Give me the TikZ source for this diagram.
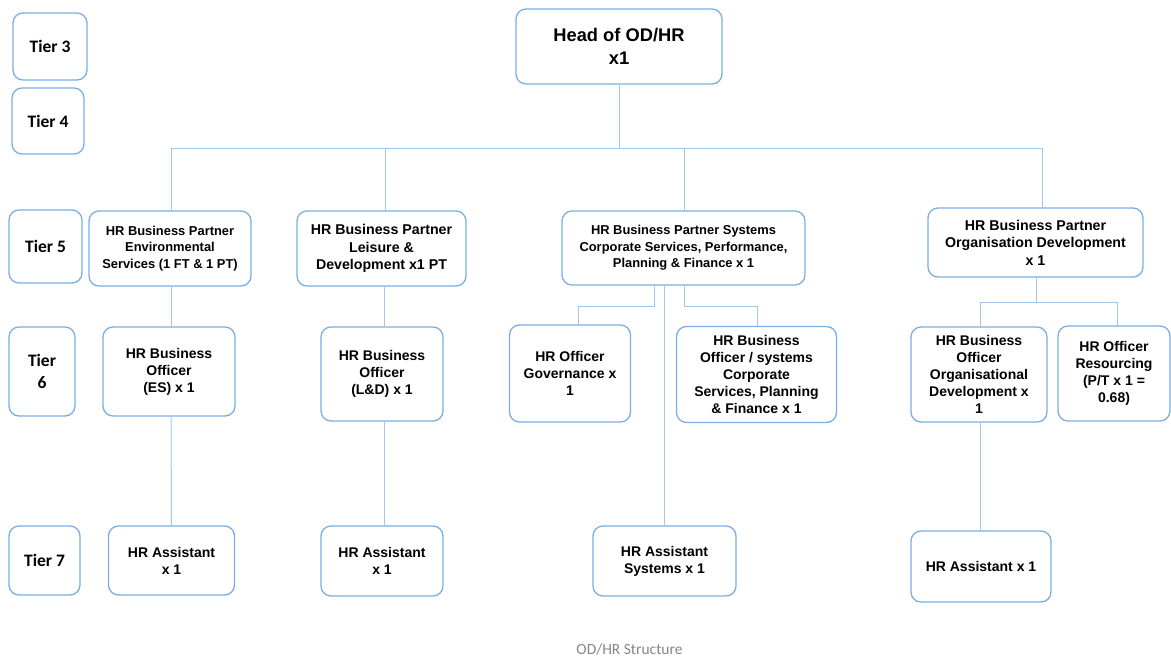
\documentclass[tikz,border=0pt]{standalone}
\usepackage{fontspec}
\setmainfont{Liberation Sans}
\newfontfamily\tierfont{Carlito}
\definecolor{boxc}{HTML}{7AAEE2}
\definecolor{linec}{HTML}{A3C6E8}
\definecolor{capc}{HTML}{868686}
\begin{document}
\begin{tikzpicture}[x=1pt,y=-1pt,
  box/.style={draw=boxc, line width=1.3pt, rounded corners=10pt, align=center, inner sep=2pt,
    font=\bfseries\fontsize{14}{17}\selectfont, text=black},
  small/.style={font=\bfseries\fontsize{12.9}{16.5}\selectfont},
  tier/.style={box, font=\tierfont\bfseries\fontsize{17.5}{22}\selectfont},
  conn/.style={draw=linec, line width=1pt}]
\useasboundingbox (0,0) rectangle (1171,656);
% tier labels
\node[tier, minimum width=74pt, minimum height=67pt] (t3) at (50,46.5) {Tier 3};
\node[tier, minimum width=72pt, minimum height=66pt] (t4) at (48,121) {Tier 4};
\node[tier, minimum width=73pt, minimum height=73pt] (t5) at (45.5,246.5) {Tier 5};
\node[tier, minimum width=66pt, minimum height=89pt] (t6) at (42,371.5) {Tier\\6};
\node[tier, minimum width=71pt, minimum height=69pt] (t7) at (44.5,560.5) {Tier 7};
% head
\node[box, font=\bfseries\fontsize{18.3}{23}\selectfont, minimum width=206pt, minimum height=75pt] (head) at (619,46.5) {Head of OD/HR\\x1};
% tier 5
\node[box, small, minimum width=162pt, minimum height=75pt] (bpES) at (170,248.5) {HR Business Partner\\Environmental\\Services (1 FT \& 1 PT)};
\node[box, font=\bfseries\fontsize{14.2}{17.5}\selectfont, minimum width=169pt, minimum height=75pt] (bpLD) at (381.5,248.5) {HR Business Partner\\Leisure \&\\Development x1 PT};
\node[box, small, minimum width=243pt, minimum height=74pt] (bpSys) at (683.5,248) {HR Business Partner Systems\\Corporate Services, Performance,\\Planning \& Finance x 1};
\node[box, font=\bfseries\fontsize{14.2}{17.5}\selectfont, minimum width=215pt, minimum height=69pt] (bpOD) at (1035.5,242.5) {HR Business Partner\\Organisation Development\\x 1};
% tier 6
\node[box, minimum width=132pt, minimum height=89pt] (oES) at (169,371.5) {HR Business\\Officer\\(ES) x 1};
\node[box, minimum width=122pt, minimum height=94pt] (oLD) at (382,374) {HR Business\\Officer\\(L\&D) x 1};
\node[box, minimum width=121pt, minimum height=97pt] (oGov) at (570,373.5) {HR Officer\\Governance x\\1};
\node[box, minimum width=160pt, minimum height=96pt] (oSys) at (756.5,374.5) {HR Business\\Officer / systems\\Corporate\\Services, Planning\\\& Finance x 1};
\node[box, minimum width=136pt, minimum height=95pt] (oOD) at (979,374.5) {HR Business\\Officer\\Organisational\\Development x\\1};
\node[box, minimum width=112pt, minimum height=95pt] (oRes) at (1114,373.5) {HR Officer\\Resourcing\\(P/T x 1 =\\0.68)};
% tier 7
\node[box, minimum width=126pt, minimum height=69pt] (aES) at (171.5,560.5) {HR Assistant\\x 1};
\node[box, minimum width=122pt, minimum height=70pt] (aLD) at (382,561) {HR Assistant\\x 1};
\node[box, minimum width=143pt, minimum height=70pt] (aSys) at (664.5,561) {HR Assistant\\Systems x 1};
\node[box, minimum width=140pt, minimum height=71pt] (aOD) at (981,566.5) {HR Assistant x 1};
% caption
\node[font=\tierfont\fontsize{15.5}{18}\selectfont, text=capc] (cap) at (629.5,649) {OD/HR Structure};
% connectors
\coordinate (busL) at (171,148);
\coordinate (busR) at (1042,148);
\coordinate (dLD) at (385,148);
\coordinate (dSys) at (684,148);
\draw[conn] (busL) -- (busR);
\draw[conn] (head.south) -- (head.south |- busL);
\draw[conn] (busL) -- (bpES.north -| busL);
\draw[conn] (dLD) -- (bpLD.north -| dLD);
\draw[conn] (dSys) -- (bpSys.north -| dSys);
\draw[conn] (busR) -- (bpOD.north -| busR);
% ES column
\draw[conn] (bpES.south -| busL) -- (oES.north -| busL);
\draw[conn] (oES.south -| busL) -- (aES.north);
% LD column
\coordinate (cLD) at (384,0);
\draw[conn] (bpLD.south -| cLD) -- (oLD.north -| cLD);
\draw[conn] (oLD.south -| cLD) -- (aLD.north -| cLD);
% Systems column
\coordinate (g0) at (654,306);
\coordinate (g1) at (578,306);
\coordinate (s0) at (684,306);
\coordinate (s1) at (757,306);
\draw[conn] (bpSys.south -| g0) -- (g0) -- (g1) -- (oGov.north -| g1);
\draw[conn] (bpSys.south -| s0) -- (s0) -- (s1) -- (oSys.north -| s1);
\draw[conn] (aSys.north |- bpSys.south) -- (aSys.north);
% OD column
\coordinate (o0) at (1036,302);
\coordinate (o1) at (980,302);
\coordinate (o2) at (1117,302);
\draw[conn] (bpOD.south -| o0) -- (o0);
\draw[conn] (o1) -- (o2);
\draw[conn] (o1) -- (oOD.north -| o1);
\draw[conn] (o2) -- (oRes.north -| o2);
\draw[conn] (oOD.south -| o1) -- (aOD.north -| o1);
\end{tikzpicture}
\end{document}
